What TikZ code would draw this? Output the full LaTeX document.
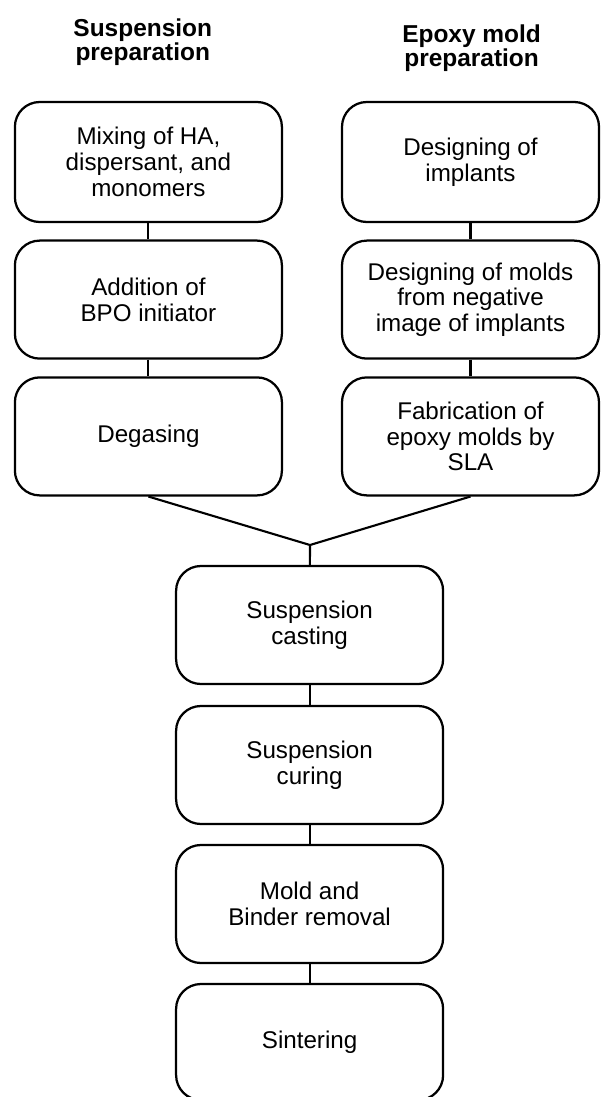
\documentclass[tikz,border=0pt]{standalone}
\usepackage{fontspec}
\setmainfont{Liberation Sans}
\newcommand\stepfont{\fontsize{17.2pt}{18.3pt}\selectfont}
\newcommand\headfont{\fontsize{17.4pt}{16pt}\selectfont\bfseries}
\tikzset{
  stepbox/.style={draw, line width=1.6pt, rounded corners=0.62cm,
    minimum width=6.675cm, minimum height=2.95cm, align=center,
    inner sep=2pt, font=\stepfont},
  heading/.style={align=center, inner sep=0pt, font=\headfont},
  link/.style={draw, line width=1.5pt},
}
\begin{document}
\begin{tikzpicture}
      \useasboundingbox (0,0) rectangle (15,-27.425);
      % column headings
      \node[heading] (hs) at (3.57,-1.05) {Suspension\\preparation};
      \node[heading] (he) at (11.79,-1.2) {Epoxy mold\\preparation};
      % suspension side
      \node[stepbox, minimum height=3cm] (s1) at (3.71,-4.05) {Mixing of HA,\\dispersant, and\\monomers};
      \node[stepbox] (s2) at (3.71,-7.49) {Addition of\\BPO initiator};
      \node[stepbox] (s3) at (3.71,-10.91) {Degasing};
      % epoxy mold side
      \node[stepbox, minimum width=6.425cm, minimum height=3cm] (e1) at (11.7625,-4.05) {Designing of\\implants};
      \node[stepbox, minimum width=6.425cm] (e2) at (11.7625,-7.49) {Designing of molds\\from negative\\image of implants};
      \node[stepbox, minimum width=6.425cm] (e3) at (11.7625,-10.91) {Fabrication of\\epoxy molds by\\SLA};
      % common part
      \coordinate (join) at (7.75,-13.625);
      \node[stepbox] (m1) at (7.74,-15.625) {Suspension\\casting};
      \node[stepbox] (m2) at (7.74,-19.125) {Suspension\\curing};
      \node[stepbox] (m3) at (7.74,-22.6) {Mold and\\Binder removal};
      \node[stepbox, minimum height=2.9cm] (m4) at (7.74,-26.05) {Sintering};
      \foreach \i/\j in {s1/s2, s2/s3, e1/e2, e2/e3, m1/m2, m2/m3, m3/m4} {
	\path[link] (\i) -- (\j);
      };
      \path[link] (s3.south) -- (join) -- (e3.south);
      \path[link] (join) -- (m1);
    \end{tikzpicture}
\end{document}
